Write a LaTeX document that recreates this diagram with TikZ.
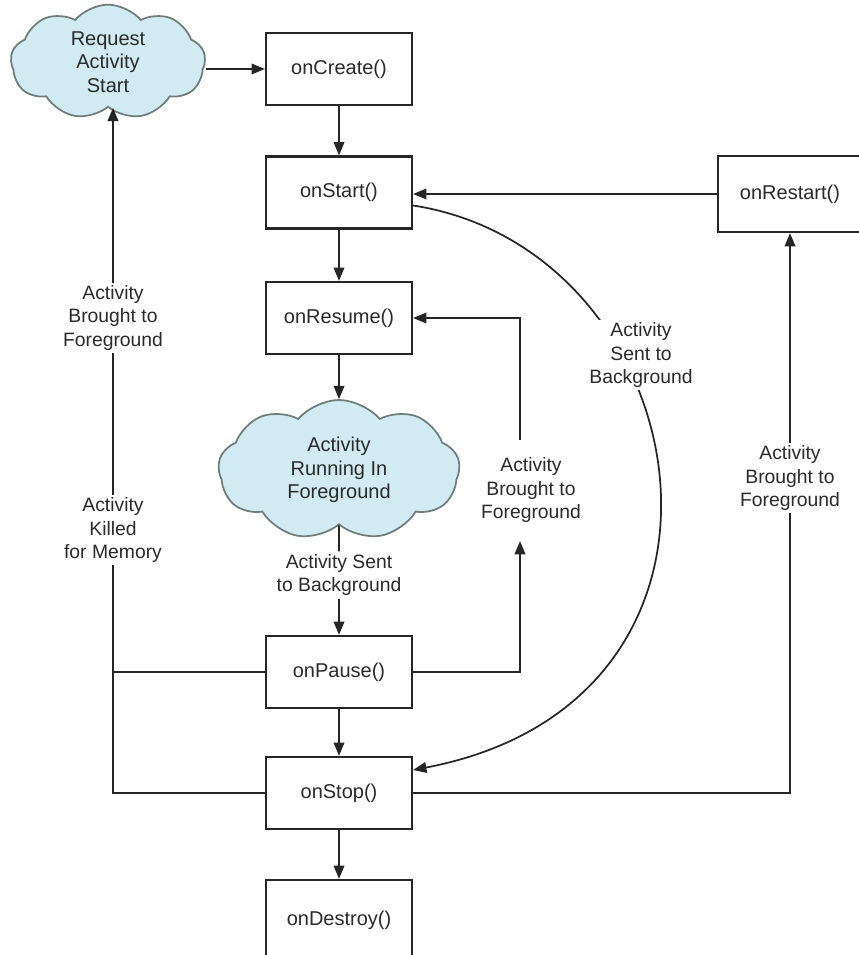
\documentclass[tikz,border=0pt]{standalone}
\usepackage{fontspec}
\setmainfont{Liberation Sans}
\usetikzlibrary{shapes.symbols,arrows.meta,calc}
\definecolor{cloudfill}{HTML}{D2EBF2}
\definecolor{cloudedge}{HTML}{6E7D7A}
\definecolor{txt}{HTML}{2A2A2A}
\begin{document}
\begin{tikzpicture}[x=0.75pt,y=-0.75pt,
  box/.style={draw=black!85,line width=1.7pt,minimum width=109.5pt,minimum height=54pt,inner sep=0pt,text=txt,font=\fontsize{15}{17}\selectfont},
  cloudnode/.style={cloud,cloud puffs=9,cloud puff arc=100,cloud ignores aspect,draw=cloudedge,fill=cloudfill,line width=1.3pt,inner sep=0pt,align=center,text=txt,font=\fontsize{15}{17.5}\selectfont},
  lbl/.style={fill=white,align=center,inner sep=2pt,text=txt,font=\fontsize{14.5}{17.5}\selectfont},
  arr/.style={line width=1.3pt,draw=black!85,-{Triangle[length=10pt,width=8pt]}},
  ln/.style={line width=1.3pt,draw=black!85}]
\useasboundingbox[fill=white] (0,0) rectangle (858,955);

% nodes
\node[cloudnode,minimum width=146pt,minimum height=86pt] (req) at (108,62) {Request\\Activity\\Start};
\node[box] (create) at (339,69) {onCreate()};
\node[box] (start) at (339,192.5) {onStart()};
\node[box,minimum width=108pt,minimum height=57pt] (restart) at (790,194) {onRestart()};
\node[box] (resume) at (339,318) {onResume()};
\node[cloudnode,minimum width=181pt,minimum height=105pt] (running) at (339,470) {Activity\\Running In\\Foreground};
\node[box] (pause) at (339,672) {onPause()};
\node[box] (stop) at (339,793) {onStop()};
\node[box,minimum height=60pt] (destroy) at (339,920) {onDestroy()};

% straight flow
\draw[arr] (req.east |- create.west) -- (create.west);
\draw[arr] (create) -- (start);
\draw[arr] (start) -- (resume);
\draw[arr] (resume) -- (running);
\draw[arr] (pause) -- (stop);
\draw[arr] (stop) -- (destroy);
\draw[arr] (restart.west) -- (restart.west -| start.east);

% curve onStart -> onStop
\coordinate (cs) at ($(start.east)+(0,13)$);
\coordinate (ce) at ($(stop.east)+(0,-23)$);
\draw[arr] (cs) .. controls (700,250) and (780,700) .. (ce);

% labels
\node[lbl] (sent1) at (339,575) {Activity Sent\\to Background};
\node[lbl] (bring2) at (531,490) {Activity\\Brought to\\Foreground};
\node[lbl] (sent2) at (641,355) {Activity\\Sent to\\Background};
\node[lbl] (bring3) at (790,478) {Activity\\Brought to\\Foreground};
\node[lbl] (bring1) at (113,318) {Activity\\Brought to\\Foreground};
\node[lbl] (killed) at (113,530) {Activity\\Killed\\for Memory};

% running -> pause through label
\draw[ln] (running) -- (sent1);
\draw[arr] (sent1) -- (pause);

% pause -> resume loop
\coordinate (b2s) at (520,541);
\coordinate (b2n) at (520,440);
\draw[arr] (pause.east) -| (b2s);
\draw[arr] (b2n) |- (resume.east);

% stop -> restart
\draw[ln] (stop.east) -| (bring3.south);
\draw[arr] (bring3.north) -- (restart.south);

% left side: killed for memory
\coordinate (lp) at (113,672);
\coordinate (ls) at (113,793);
\draw[ln] (pause.west) -- (lp);
\draw[ln] (stop.west) -- (ls) -- (killed.south);
\draw[ln] (killed.north) -- (bring1.south);
\draw[arr] (bring1.north) -- (bring1.north |- req.south);
\end{tikzpicture}
\end{document}
